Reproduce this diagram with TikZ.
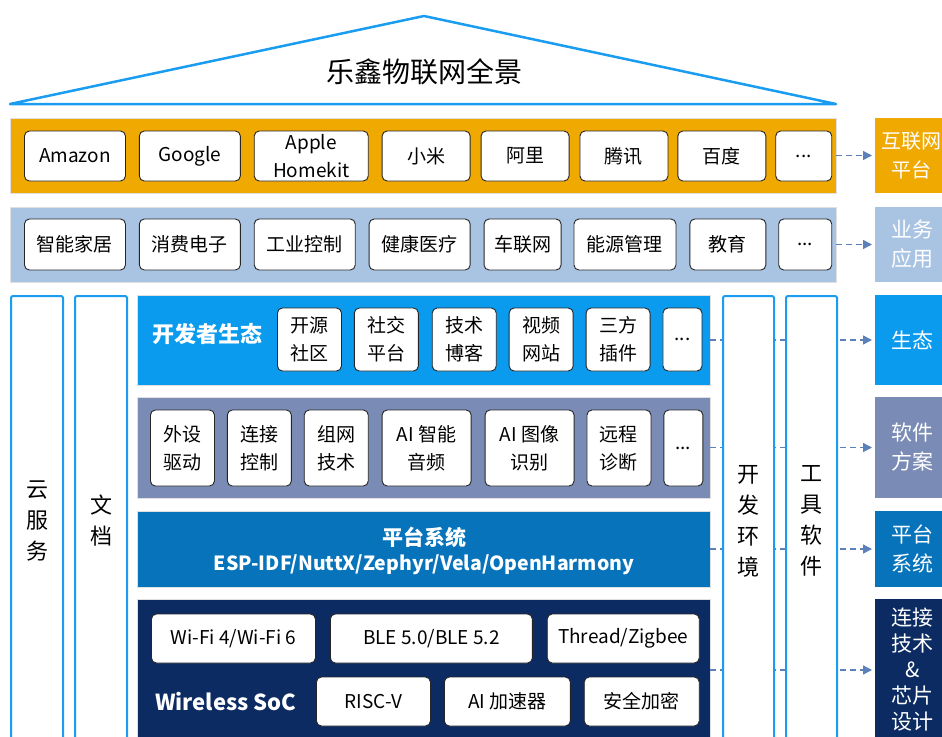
\documentclass[tikz,border=0pt]{standalone}
\usepackage{fontspec}
\usetikzlibrary{arrows.meta, positioning}
\newfontfamily\cjk{Noto Sans CJK SC}
\definecolor{gold}{HTML}{F0A900}
\definecolor{haze}{HTML}{A9C3E3}
\definecolor{sky}{HTML}{0B9BEE}
\definecolor{slate}{HTML}{7A8BB5}
\definecolor{ocean}{HTML}{0673BB}
\definecolor{navy}{HTML}{0B2B62}
\definecolor{rim}{HTML}{1A9CF0}
\definecolor{flowc}{HTML}{5C80B8}
\tikzset{
  pane/.style={inner sep=0pt, outer sep=0pt, anchor=north west, draw=black!12, line width=0.5pt},
  tile/.style={draw=black!85, fill=white, rounded corners=5pt, line width=0.9pt, inner sep=0pt,
    align=center, text=black, minimum width=#1pt, font=\cjk\fontsize{19}{28}\selectfont},
  tag/.style={inner sep=0pt, outer sep=0pt, anchor=north west, minimum width=75pt, align=center,
    text=white, font=\cjk\fontsize{21}{29}\selectfont},
  pillar/.style={draw=rim, line width=2pt, fill=white, anchor=north west, inner sep=0pt,
    minimum width=#1pt, minimum height=450pt, rounded corners=1.5pt, align=center,
    font=\cjk\fontsize{22}{31}\selectfont},
  flow/.style={draw=flowc, line width=1.4pt, dash pattern=on 6pt off 4pt, shorten >=3pt,
    -{Triangle[length=9pt, width=9pt]}},
  lead/.style={text=white, inner sep=0pt, font=\cjk\bfseries\fontsize{#1}{#1}\selectfont}
}
\begin{document}
\begin{tikzpicture}[x=1pt, y=-1pt, node distance=12pt]
  \useasboundingbox (0,0) rectangle (942,736);

  % roof
  \draw[rim, line width=2.5pt, line join=round] (10,104) -- (424,16) -- (836,104) -- cycle;
  \node[font=\cjk\fontsize{28}{30}\selectfont] (title) at (424,72) {乐鑫物联网全景};

  % layers
  \node[pane, fill=gold,  minimum width=826pt, minimum height=75pt]  (iot) at (10,118) {};
  \node[pane, fill=haze,  minimum width=826pt, minimum height=75pt]  (app) at (10,207) {};
  \node[pane, fill=sky,   minimum width=573pt, minimum height=90pt]  (eco) at (137,295) {};
  \node[pane, fill=slate, minimum width=573pt, minimum height=101pt] (sol) at (137,397) {};
  \node[pane, fill=ocean, minimum width=573pt, minimum height=76pt]  (os)  at (137,511) {};
  \node[pane, fill=navy,  minimum width=573pt, minimum height=142pt] (soc) at (137,599) {};

  % side tags
  \node[tag, fill=gold,  minimum height=75pt, minimum width=72pt, font=\cjk\fontsize{20}{29}\selectfont]
    (tiot) at (875,118) {互联网\\平台};
  \node[tag, fill=haze,  minimum height=75pt]  (tapp) at (875,207) {业务\\应用};
  \node[tag, fill=sky,   minimum height=90pt]  (teco) at (875,295) {生态};
  \node[tag, fill=slate, minimum height=101pt] (tsol) at (875,397) {软件\\方案};
  \node[tag, fill=ocean, minimum height=76pt]  (tos)  at (875,511) {平台\\系统};
  \node[tag, fill=navy,  minimum height=142pt, font=\cjk\fontsize{21}{26}\selectfont] (tsoc) at (875,599)
    {连接\\技术\\\&\\芯片\\设计};

  \path
    (iot.east) edge[flow] (tiot.west)
    (app.east) edge[flow] (tapp.west)
    (eco.east) edge[flow] (teco.west)
    (sol.east) edge[flow] (tsol.west)
    (os.east)  edge[flow] (tos.west)
    (soc.east) edge[flow] (tsoc.west);

  % pillars
  \node[pillar=52] (cloud) at (10,295)  {云\\服\\务};
  \node[pillar=52] (docs)  at (74,295)  {文\\档};
  \node[pillar=51] (ide)   at (722,295) {开\\发\\环\\境};
  \node[pillar=51] (tools) at (785,295) {工\\具\\软\\件};

  % row: platforms
  \begin{scope}[every node/.append style={minimum height=50pt}]
    \node[tile=101, anchor=west] (amazon) at (24,156) {Amazon};
    \node[tile=101, right=13pt of amazon] (google)  {Google};
    \node[tile=114, right=13pt of google] (apple)   {Apple\\Homekit};
    \node[tile=88,  right=13pt of apple]  (xiaomi)  {小米};
    \node[tile=88,  right=10pt of xiaomi] (ali)     {阿里};
    \node[tile=88,  right=10pt of ali]    (tencent) {腾讯};
    \node[tile=88,  right=9pt of tencent] (baidu)   {百度};
    \node[tile=56,  right=9pt of baidu]   (iotmore) {...};
  \end{scope}

  % row: applications
  \begin{scope}[every node/.append style={minimum height=51pt}]
    \node[tile=101, anchor=west] (home) at (24,244.5) {智能家居};
    \node[tile=101, right=13pt of home]     (consumer) {消费电子};
    \node[tile=101, right=13pt of consumer] (industry) {工业控制};
    \node[tile=101, right=13pt of industry] (health)   {健康医疗};
    \node[tile=77,  right=13pt of health]   (vehicle)  {车联网};
    \node[tile=102, right=12pt of vehicle]  (energy)   {能源管理};
    \node[tile=76,  right=13pt of energy]   (edu)      {教育};
    \node[tile=53,  right=12pt of edu]      (appmore)  {...};
  \end{scope}

  % row: ecosystem
  \node[lead=22, anchor=west] (econame) at (152,334) {开发者生态};
  \begin{scope}[every node/.append style={minimum height=63pt}]
    \node[tile=64, anchor=west] (oss) at (277,339.5) {开源\\社区};
    \node[tile=64, right=12pt of oss]    (social) {社交\\平台};
    \node[tile=64, right=13pt of social] (blog)   {技术\\博客};
    \node[tile=64, right=12pt of blog]   (video)  {视频\\网站};
    \node[tile=64, right=12pt of video]  (plugin) {三方\\插件};
    \node[tile=39, right=12pt of plugin] (ecomore) {...};
  \end{scope}

  % row: solutions
  \begin{scope}[every node/.append style={minimum height=76pt}]
    \node[tile=64, anchor=west] (periph) at (150,448) {外设\\驱动};
    \node[tile=64, right=12pt of periph] (link)    {连接\\控制};
    \node[tile=64, right=12pt of link]   (mesh)    {组网\\技术};
    \node[tile=89, right=13pt of mesh]   (audio)   {AI 智能\\音频};
    \node[tile=89, right=13pt of audio]  (vision)  {AI 图像\\识别};
    \node[tile=64, right=12pt of vision] (remote)  {远程\\诊断};
    \node[tile=39, right=12pt of remote] (solmore) {...};
  \end{scope}

  % platform system
  \node[lead=21] (osname) at (424,537) {平台系统};
  \node[lead=19.5] (oslist) at (424,565) {ESP-IDF/NuttX/Zephyr/Vela/OpenHarmony};

  % wireless soc
  \node[lead=22, anchor=west] (socname) at (155,702) {Wireless SoC};
  \begin{scope}[every node/.append style={minimum height=49pt}]
    \node[tile=164, anchor=west] (wifi) at (151,638.5) {Wi-Fi 4/Wi-Fi 6};
    \node[tile=202, right=14pt of wifi] (ble)    {BLE 5.0/BLE 5.2};
    \node[tile=152, right=14pt of ble]  (thread) {Thread/Zigbee};
    \node[tile=114, anchor=west] (riscv) at (316,701.5) {RISC-V};
    \node[tile=126, right=13pt of riscv] (npu)    {AI 加速器};
    \node[tile=115, right=13pt of npu]   (crypto) {安全加密};
  \end{scope}
\end{tikzpicture}
\end{document}
